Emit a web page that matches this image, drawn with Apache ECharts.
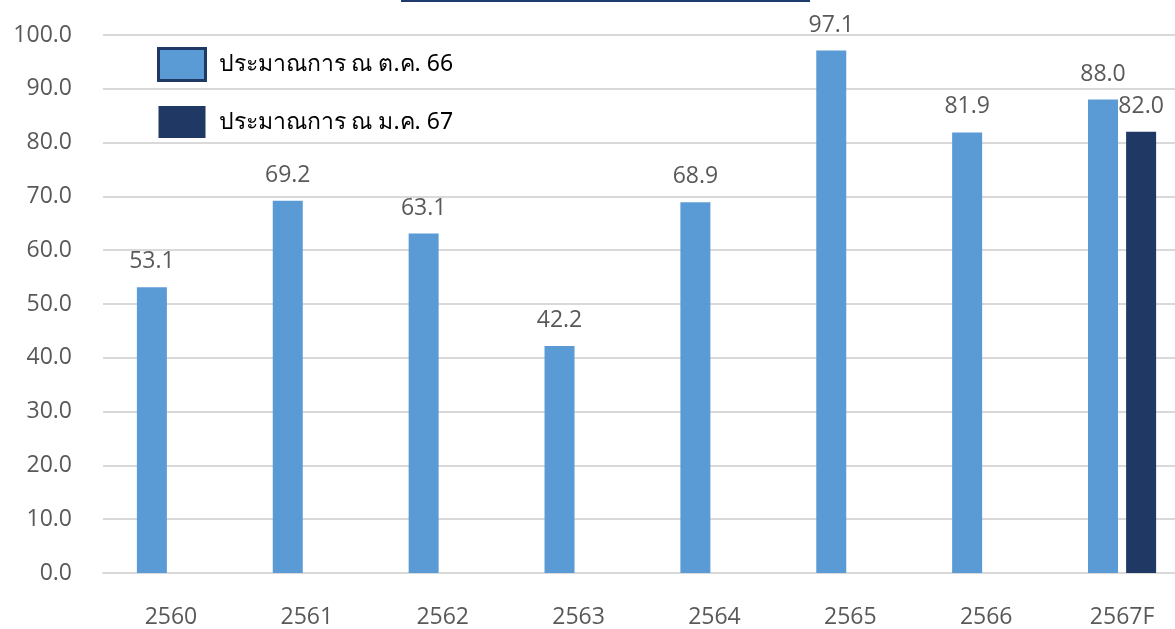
<!DOCTYPE html>
<html>
<head>
<meta charset="utf-8">
<script src="https://cdn.jsdelivr.net/npm/echarts@6/dist/echarts.min.js"></script>
<style>
html,body{margin:0;padding:0;background:#fff;overflow:hidden;}
#main{width:1190px;height:629px;}
</style>
</head>
<body>
<div id="main"></div>
<script>
var years = ['2560', '2561', '2562', '2563', '2564', '2565', '2566', '2567F'];
var estOct66 = [53.1, 69.2, 63.1, 42.2, 68.9, 97.1, 81.9, 88.0];
var estJan67 = ['-', '-', '-', '-', '-', '-', '-', 82.0];
var seriesNames = ['ประมาณการ ณ ต.ค. 66', 'ประมาณการ ณ ม.ค. 67'];

var font = 'Segoe UI, "Open Sans", "Noto Sans", sans-serif';
var myChart = echarts.init(document.getElementById('main'));

var valueLabel = {
    show: true,
    position: 'top',
    distance: 14,
    color: '#595959',
    fontSize: 23,
    fontFamily: font,
    formatter: function (p) { return Number(p.value).toFixed(1); }
};

var option = {
    animation: false,
    backgroundColor: '#fff',
    grid: { left: 103, top: 35, right: 0, bottom: 56, containLabel: false },
    legend: {
        orient: 'vertical',
        left: 152,
        top: 42,
        itemWidth: 47,
        itemHeight: 32,
        itemGap: 24,
        icon: 'rect',
        textStyle: { fontSize: 23, color: '#000', fontFamily: '"Noto Sans", sans-serif', padding: [0, 0, 0, 8] },
        data: [
            { name: seriesNames[0], itemStyle: { borderColor: '#203864', borderWidth: 3 } },
            { name: seriesNames[1] }
        ]
    },
    xAxis: {
        type: 'category',
        data: years,
        axisTick: { show: false },
        axisLine: { lineStyle: { color: '#d9d9d9', width: 2 } },
        axisLabel: { color: '#595959', fontSize: 23, fontFamily: font, margin: 33 }
    },
    yAxis: {
        type: 'value',
        min: 0,
        max: 100,
        interval: 10,
        axisLine: { show: false },
        axisTick: { show: false },
        splitLine: { lineStyle: { color: '#d9d9d9', width: 2 } },
        axisLabel: {
            color: '#595959', fontSize: 23, fontFamily: font, margin: 31,
            formatter: function (v) { return v.toFixed(1); }
        }
    },
    graphic: [{
        type: 'rect',
        shape: { x: 401, y: 0, width: 409, height: 2 },
        style: { fill: '#1f3a6e' }
    }],
    series: [
        {
            name: seriesNames[0],
            type: 'bar',
            barWidth: 30,
            barGap: '27%',
            data: estOct66,
            itemStyle: { color: '#5b9bd5' },
            label: valueLabel
        },
        {
            name: seriesNames[1],
            type: 'bar',
            barWidth: 30,
            data: estJan67,
            itemStyle: { color: '#203864' },
            label: valueLabel
        }
    ]
};
myChart.setOption(option);
</script>
</body>
</html>
